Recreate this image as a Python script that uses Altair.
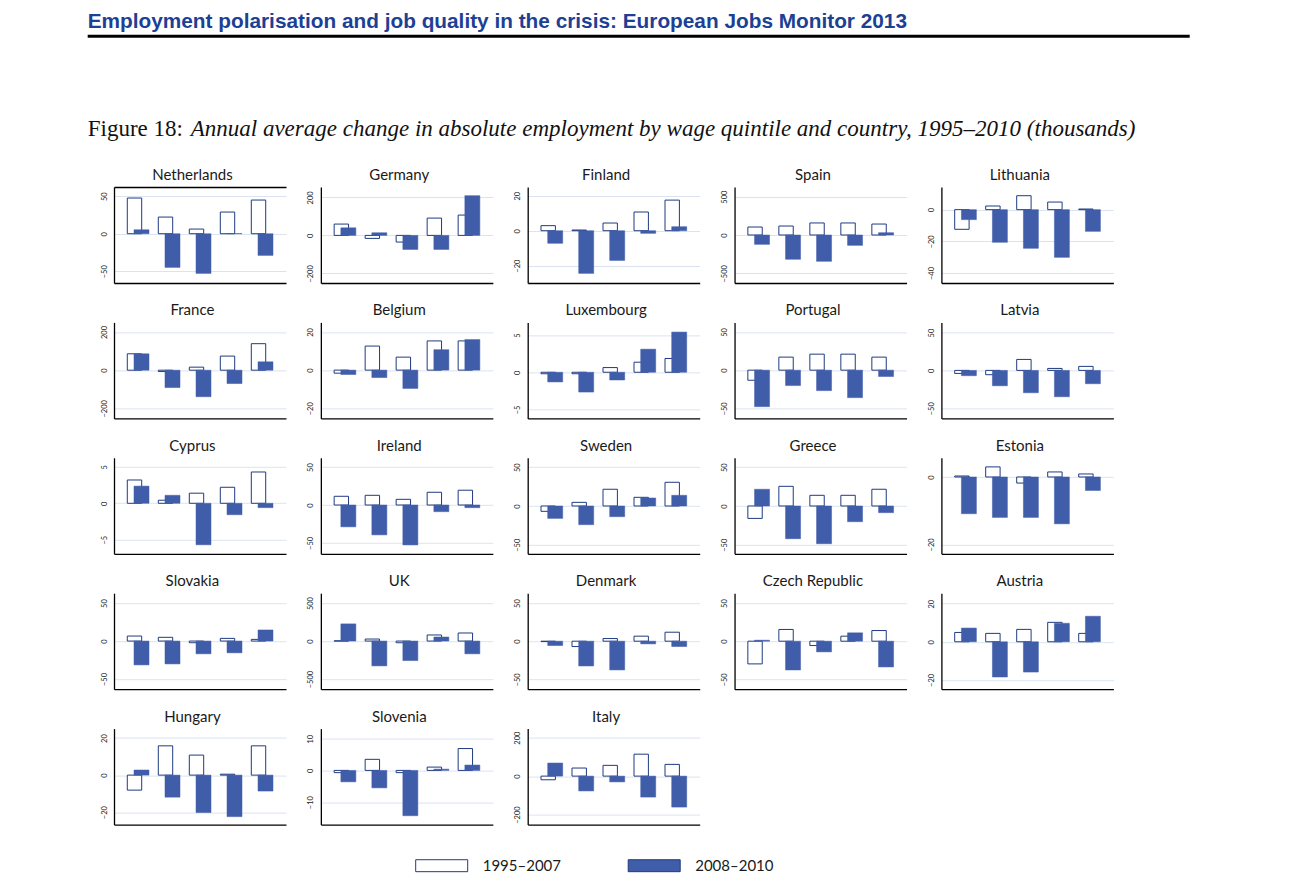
import altair as alt
import pandas as pd

countries = ["Netherlands", "Germany", "Finland", "Spain", "Lithuania",
             "France", "Belgium", "Luxembourg", "Portugal", "Latvia",
             "Cyprus", "Ireland", "Sweden", "Greece", "Estonia",
             "Slovakia", "UK", "Denmark", "Czech Republic", "Austria",
             "Hungary", "Slovenia", "Italy"]
quintiles = [1, 2, 3, 4, 5]
periods = ["1995–2007", "2008–2010"]

change_1995_2007 = [
    [47.6, 22.2, 6.2, 28.9, 44.9],
    [59.6, -15.8, -35, 91, 107],
    [2.9, 0.4, 4.4, 10.7, 17.5],
    [104, 117, 157, 157, 143],
    [-12.4, 2.3, 8.8, 4.8, 0.4],
    [86, -7, 16, 74, 139],
    [-1.6, 12.6, 6.8, 15.3, 15.3],
    [-0.2, -0.2, 0.63, 1.35, 1.85],
    [-13.2, 17.1, 21, 21, 17.1],
    [-4, -5.7, 14.5, 2.6, 5.3],
    [3.2, 0.42, 1.39, 2.2, 4.3],
    [11.5, 12.8, 7.5, 16.8, 19.5],
    [-6.9, 4.7, 21.6, 11.2, 30.6],
    [-16, 25.4, 13.8, 13.8, 21.6],
    [0.3, 3, -1.8, 1.5, 0.9],
    [6.6, 4.9, -2.2, 3.5, 2.2],
    [3, 26.5, -22, 80, 106],
    [-0.5, -7, 3.5, 6.6, 11.8],
    [-29.8, 15.4, -5.7, 6.6, 14],
    [4.9, 4.4, 6.5, 10.2, 4.4],
    [-8.1, 15.8, 10.8, 0.5, 15.8],
    [-0.7, 3.5, -0.7, 1.05, 6.9],
    [-19, 42, 56, 114, 61],
]

change_2008_2010 = [
    [5.3, -44.9, -52.9, 0.3, -28.9],
    [40, 14, -74, -74, 209],
    [-7.2, -24.4, -17, -1.5, 2.3],
    [-122, -317, -343, -135, 30],
    [-6.3, -20.6, -24.4, -30.1, -13.7],
    [86, -91, -139, -70, 44],
    [-2.3, -3.9, -9.6, 10.7, 16],
    [-1.3, -2.66, -1.04, 3.1, 5.4],
    [-47.8, -20.2, -26.8, -36, -8.3],
    [-7, -20.3, -29.5, -34.8, -17.6],
    [2.36, 1.1, -5.7, -1.57, -0.6],
    [-28.8, -39.4, -52.7, -8.8, -3.5],
    [-16, -24.1, -13.8, 10.3, 13.8],
    [21.6, -42.2, -48.7, -20.3, -8.6],
    [-10.9, -12, -12, -13.9, -4],
    [-31.4, -30.1, -16.8, -15.5, 14.6],
    [226, -327, -257, 53, -168],
    [-5.7, -32.5, -37.7, -3.5, -7],
    [1.3, -37.7, -14, 11, -33.8],
    [7.2, -18.5, -15.9, 9.7, 13.4],
    [2.75, -11.9, -20.2, -22.4, -8.6],
    [-3.6, -5.5, -14.3, 0.4, 1.7],
    [68, -77, -30, -109, -161],
]

y_ticks = [
    [-50, 0, 50], [-200, 0, 200], [-20, 0, 20], [-500, 0, 500], [-40, -20, 0],
    [-200, 0, 200], [-20, 0, 20], [-5, 0, 5], [-50, 0, 50], [-50, 0, 50],
    [-5, 0, 5], [-50, 0, 50], [-50, 0, 50], [-50, 0, 50], [-20, 0],
    [-50, 0, 50], [-500, 0, 500], [-50, 0, 50], [-50, 0, 50], [-20, 0, 20],
    [-20, 0, 20], [-10, 0, 10], [-200, 0, 200],
]

y_domains = [
    [-65.7, 62.3], [-250.5, 254.7], [-29.9, 25], [-626, 626], [-46.3, 14.3],
    [-252.6, 250.5], [-25.3, 25], [-6.2, 6.7], [-63.2, 62.6], [-63.4, 63.4],
    [-6.94, 6.25], [-64.4, 62.3], [-61.7, 62.2], [-61.7, 62.2], [-22.8, 5.7],
    [-63.4, 63], [-634, 630], [-63, 63], [-63, 63], [-24.9, 25.5],
    [-26.7, 25.1], [-17.1, 13.2], [-252, 247],
]

header_text = "Employment polarisation and job quality in the crisis: European Jobs Monitor 2013"
caption_lead = "Figure 18:"
caption_text = "Annual average change in absolute employment by wage quintile and country, 1995–2010 (thousands)"

BLUE = "#405daa"
NAVY = "#1f3b80"
GRID = "#dbe4ee"
PW, PH = 172, 96


def bars(i):
    df = pd.DataFrame({
        "quintile": quintiles * 2,
        "period": [periods[0]] * 5 + [periods[1]] * 5,
        "value": change_1995_2007[i] + change_2008_2010[i],
    })
    base = alt.Chart(df).encode(
        x=alt.X("quintile:O",
                scale=alt.Scale(paddingInner=0, paddingOuter=0.274),
                axis=alt.Axis(labels=False, ticks=False, title=None, grid=False,
                              domainColor="black", domainWidth=1.3)),
        y=alt.Y("value:Q",
                scale=alt.Scale(domain=y_domains[i], nice=False, zero=False),
                axis=alt.Axis(values=y_ticks[i], title=None, labelAngle=270,
                              labelAlign="center", labelBaseline="bottom",
                              labelPadding=6, ticks=False, grid=True,
                              gridColor=GRID, gridWidth=1,
                              domainColor="black", domainWidth=1.3,
                              labelFontSize=7.5, labelFont="Lato",
                              labelColor="#222222", labelFlush=False,
                              labelOverlap=False)),
        y2=alt.Y2(datum=0),
    )
    hollow = base.transform_filter(alt.datum.period == periods[0]).mark_bar(
        width=14.4, xOffset=-3.5, fill="white", stroke=NAVY, strokeWidth=1)
    filled = base.transform_filter(alt.datum.period == periods[1]).mark_bar(
        width=15, xOffset=3.5, fill=BLUE, stroke=BLUE, strokeWidth=0.5)
    name = alt.Chart(pd.DataFrame({"name": [countries[i]]})).mark_text(
        align="center", baseline="alphabetic", font="Lato", fontSize=15,
        color="#1a1a1a"
    ).encode(text="name:N", x=alt.value(PW / 2 - 7.6), y=alt.value(-7))
    return [hollow, filled, name]


panels = []
for i in range(len(countries)):
    layers = bars(i)
    if i == 0:
        one = pd.DataFrame({"h": [header_text], "c1": [caption_lead], "c2": [caption_text]})
        header = alt.Chart(one).mark_text(
            align="left", baseline="alphabetic", font="Liberation Sans",
            fontWeight="bold", fontSize=20.8, color="#1d3f94"
        ).encode(text="h:N", x=alt.value(-26.3), y=alt.value(-159.3))
        rule = alt.Chart(one).mark_rule(color="black", strokeWidth=3).encode(
            x=alt.value(-26.3), x2=alt.value(1075.7), y=alt.value(-150.8))
        cap1 = alt.Chart(one).mark_text(
            align="left", baseline="alphabetic", font="Liberation Serif",
            fontSize=23, color="#111111"
        ).encode(text="c1:N", x=alt.value(-26.3), y=alt.value(-51.3))
        cap2 = alt.Chart(one).mark_text(
            align="left", baseline="alphabetic", font="Liberation Serif",
            fontStyle="italic", fontSize=23, color="#111111"
        ).encode(text="c2:N", x=alt.value(76.7), y=alt.value(-51.3))
        leg_df = pd.DataFrame({"period": periods})
        leg_x = alt.X("period:N", scale=alt.Scale(domain=periods, range=[327.7, 540.2], padding=0),
                      axis=None)
        leg_pts = alt.Chart(leg_df).mark_point(
            shape="M-1,-0.23H1V0.23H-1Z", size=2704, filled=True, opacity=1,
            stroke=NAVY, strokeWidth=1
        ).encode(x=leg_x, y=alt.value(678.7),
                 fill=alt.Fill("period:N", scale=alt.Scale(domain=periods, range=["white", BLUE]),
                               legend=None))
        leg_txt = alt.Chart(leg_df).mark_text(
            align="left", baseline="middle", dx=41, font="Lato", fontSize=15, color="#1a1a1a"
        ).encode(x=leg_x, y=alt.value(678.7), text="period:N")
        layers = layers + [header, rule, cap1, cap2, leg_pts, leg_txt]
        panel = alt.layer(*layers).resolve_scale(x="independent")
    else:
        panel = alt.layer(*layers)
    panels.append(panel.properties(width=PW, height=PH))

chart = alt.concat(
    *panels, columns=5, spacing={"row": 39.4, "column": 34.85}, bounds="flush"
).properties(
    padding={"left": 78, "top": 2, "right": 5, "bottom": 5}
).configure_view(stroke=None)

chart.save("out.html", embed_options={"renderer": "svg", "actions": False})
